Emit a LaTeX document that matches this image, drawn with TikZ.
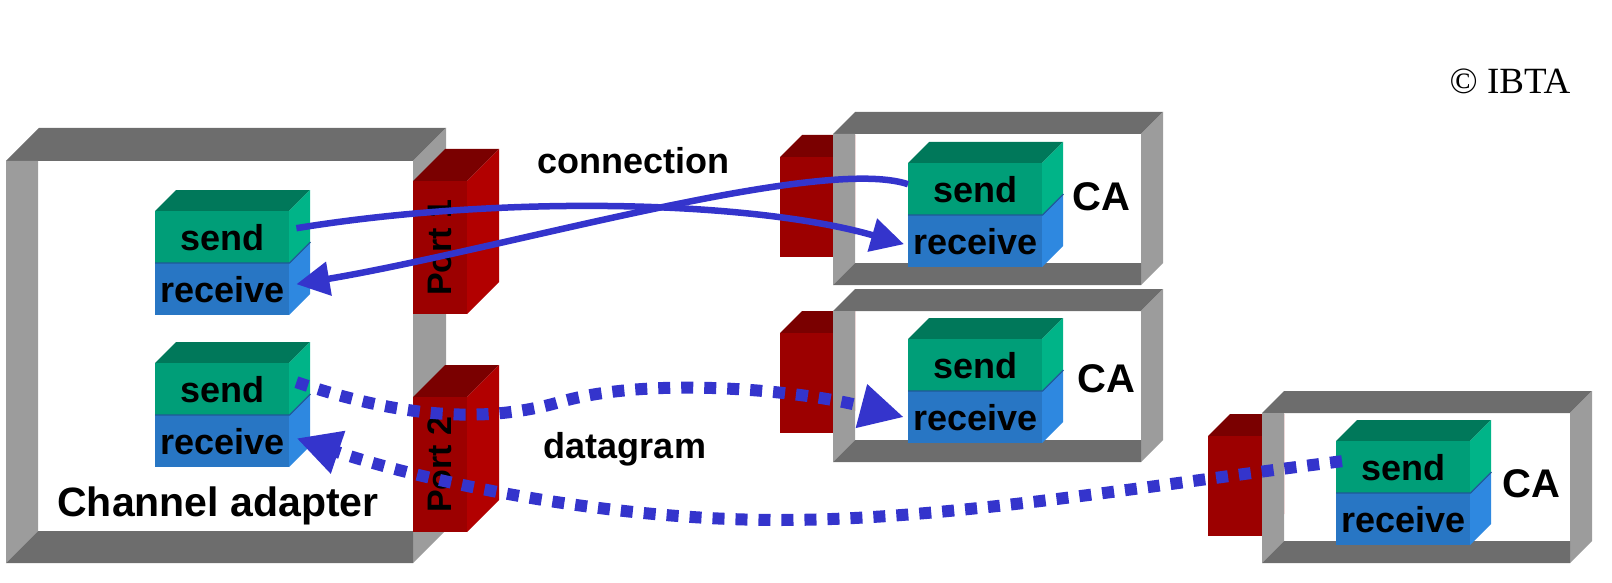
\documentclass[tikz,border=0pt]{standalone}
\usepackage{fontspec}
\setmainfont{Liberation Sans}
\newfontfamily\ibtafont{Liberation Serif}
\usetikzlibrary{arrows.meta,calc}

\definecolor{framedark}{RGB}{109,109,109}
\definecolor{framelight}{RGB}{156,156,156}
\definecolor{portfront}{RGB}{156,0,0}
\definecolor{porttop}{RGB}{122,0,0}
\definecolor{portside}{RGB}{178,0,0}
\definecolor{sendfront}{RGB}{0,158,120}
\definecolor{sendtop}{RGB}{0,120,90}
\definecolor{sendside}{RGB}{0,180,136}
\definecolor{recvfront}{RGB}{40,118,196}
\definecolor{recvside}{RGB}{46,136,224}
\definecolor{seamblue}{RGB}{30,90,150}
\definecolor{arrowblue}{RGB}{52,52,204}

\tikzset{
  sendbox/.style={fill=sendfront, minimum width=134pt, minimum height=52pt,
    inner sep=0pt, anchor=north west, font=\bfseries\fontsize{36}{40}\selectfont},
  recvbox/.style={sendbox, fill=recvfront},
  portbox/.style={fill=portfront, inner sep=0pt, anchor=north west},
  portlbl/.style={rotate=90, inner sep=0pt, font=\bfseries\fontsize{34}{38}\selectfont},
  biglbl/.style={anchor=base, inner sep=0pt, font=\bfseries\fontsize{41}{44}\selectfont},
  calbl/.style={anchor=base, inner sep=0pt, font=\bfseries\fontsize{40}{44}\selectfont},
  linklbl/.style={anchor=base, inner sep=0pt, font=\bfseries\fontsize{36}{40}\selectfont},
  seam/.style={draw=seamblue, line width=1.2pt},
  conn/.style={draw=arrowblue, line width=6.5pt, -{Triangle[length=33pt,width=33pt]}},
  dgram/.style={draw=arrowblue, line width=12pt, dash pattern=on 12pt off 11pt,
    -{Triangle[length=44pt,width=42pt]}},
}

% open box frame: #1 x, #2 y (front top-left), #3 w, #4 h, #5 thickness, #6 depth
\newcommand{\myOpenFrame}[6]{%
  \fill[framedark] (#1,#2) -- ++(#6,-#6) -- ++(#3,0) -- ++(-#6,#6) -- cycle;
  \fill[framelight] (#1+#3,#2) -- ++(#6,-#6) -- ++(0,#4) -- ++(-#6,#6) -- cycle;
  \fill[framelight] (#1,#2) -- ++(#5,0) -- ++(0,#4-#5) -- ++(-#5,#5) -- cycle;
  \fill[framedark] (#1,#2+#4) -- ++(#5,-#5) -- ++(#3-#5,0) -- ++(0,#5) -- cycle;
}
% port: #1 name, #2 x, #3 y, #4 w, #5 h, #6 depth
\newcommand{\myPortBlock}[6]{%
  \fill[porttop] (#2,#3) -- ++(#6,-#6) -- ++(#4,0) -- ++(-#6,#6) -- cycle;
  \fill[portside] (#2+#4,#3) -- ++(#6,-#6) -- ++(0,#5) -- ++(-#6,#6) -- cycle;
  \node[portbox, minimum width=#4pt, minimum height=#5pt] (#1) at (#2,#3) {};
}
% send/receive stack: #1 name prefix, #2 x, #3 y
\newcommand{\mySRStack}[3]{%
  \fill[sendtop] (#2,#3) -- ++(21,-21) -- ++(134,0) -- ++(-21,21) -- cycle;
  \fill[sendside] (#2+134,#3) -- ++(21,-21) -- ++(0,52) -- ++(-21,21) -- cycle;
  \fill[recvside] (#2+134,#3+52) -- ++(21,-21) -- ++(0,52) -- ++(-21,21) -- cycle;
  \node[sendbox] (#1s) at (#2,#3) {send};
  \node[recvbox] (#1r) at (#2,#3+52) {receive};
  \draw[seam] (#1r.north west) -- (#1r.north east) -- ++(21,-21);
}

\begin{document}
\begin{tikzpicture}[x=1pt,y=-1pt]
\useasboundingbox (0,0) rectangle (1612,583);

% channel adapter
\myOpenFrame{6}{161}{407}{402}{32}{33}
\mySRStack{ma}{155}{211}
\mySRStack{mb}{155}{363}
\myPortBlock{p1}{413}{181}{54}{133}{32}
\myPortBlock{p2}{413}{397}{54}{135}{32}
\node[portlbl] (p1l) at (p1.center) {Port 1};
\node[portlbl] (p2l) at (p2.center) {Port 2};
\node[biglbl] (chan) at (218,516) {Channel adapter};

% remote CAs
\myPortBlock{q1}{780}{157}{53}{100}{22}
\myOpenFrame{833}{134}{308}{151}{22}{22}
\mySRStack{ca}{908}{163}
\node[calbl] (ca1) at (1101,210) {CA};

\myPortBlock{q2}{780}{333}{53}{100}{22}
\myOpenFrame{833}{311}{308}{151}{22}{22}
\mySRStack{cb}{908}{339}
\node[calbl] (ca2) at (1106,392) {CA};

\myPortBlock{q3}{1208}{436}{54}{100}{22}
\myOpenFrame{1262}{413}{308}{150}{22}{22}
\mySRStack{cc}{1336}{441}
\node[calbl] (ca3) at (1531,497) {CA};

% labels
\node[linklbl] (lconn) at (633,173) {connection};
\node[linklbl] (ldg) at (625,458) {datagram};
\node[anchor=base, inner sep=0pt, font=\ibtafont\fontsize{37}{40}\selectfont] (ibta) at (1510,94) {© IBTA};

% connections
\draw[conn] ([xshift=7pt,yshift=9pt]mas.east)
  .. controls (500,195) and (750,200) .. ([xshift=-4pt,yshift=-3pt]car.west);
\draw[conn] ([yshift=5pt]cas.west)
  .. controls (820,155) and (500,250) .. ([xshift=7pt,yshift=5pt]mar.east);
\draw[dgram] ([xshift=7pt,yshift=7pt]mbs.east)
  .. controls (380,410) and (470,428) .. (560,402)
  .. controls (650,376) and (800,390) .. ([xshift=-4pt]cbr.west);
\draw[dgram] ([xshift=6pt,yshift=6pt]ccs.west)
  .. controls (1150,485) and (950,520) .. (780,520)
  .. controls (600,520) and (420,480) .. ([xshift=7pt,yshift=3pt]mbr.east);
\end{tikzpicture}
\end{document}
